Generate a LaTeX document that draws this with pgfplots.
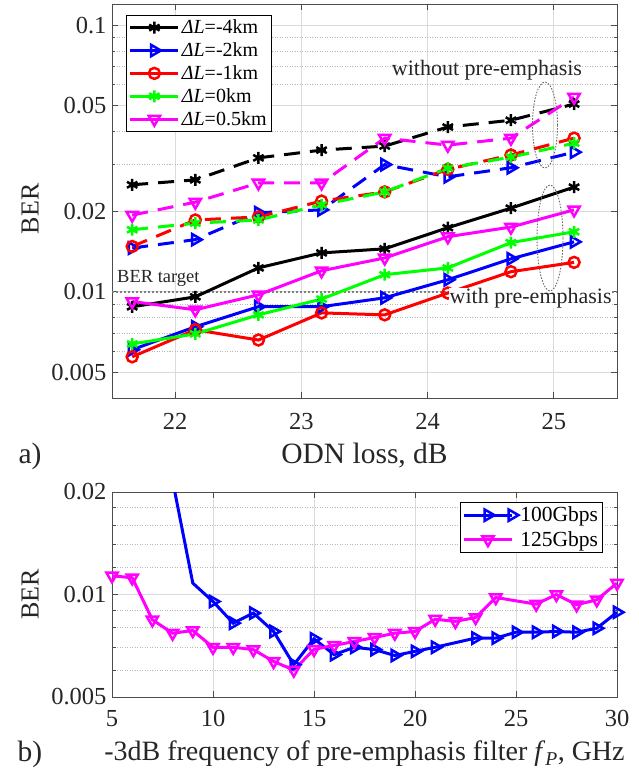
\documentclass[border=0pt]{standalone}
\usepackage{fontspec}
\setmainfont{Liberation Serif}
\usepackage{pgfplots}
\pgfplotsset{compat=1.18}
\definecolor{cK}{RGB}{0,0,0}
\definecolor{cB}{RGB}{0,0,255}
\definecolor{cR}{RGB}{255,0,0}
\definecolor{cG}{RGB}{0,255,0}
\definecolor{cM}{RGB}{255,0,255}

\tikzset{
  plK/.style={cK, line width=3pt, mark=asterisk, mark size=6pt, mark options={solid, line width=2.5pt}},
  plB/.style={cB, line width=3pt, mark=triangle, mark size=6.5pt, mark options={solid, rotate=-90, line width=2.5pt, fill=none}},
  plR/.style={cR, line width=3pt, mark=o, mark size=5.5pt, mark options={solid, line width=2.5pt, fill=none}},
  plG/.style={cG, line width=3pt, mark=asterisk, mark size=6pt, mark options={solid, line width=2.5pt}},
  plM/.style={cM, line width=3pt, mark=triangle, mark size=6.5pt, mark options={solid, rotate=180, line width=2.5pt, fill=none}},
  pldsh/.style={dash pattern=on 16pt off 10pt},
}

\begin{document}
\begin{tikzpicture}
\useasboundingbox (0pt,0pt) rectangle (638pt,-774pt);

% ---------- a) ----------
\begin{axis}[
  scale only axis, width=505pt, height=394pt, ymode=log,
  at={(112pt,-4pt)}, anchor=north west,
  tick align=inside,
  major tick length=6pt, minor tick length=3.5pt,
  grid=both,
  major grid style={line width=0.8pt, color=black!14},
  minor grid style={line width=0.8pt, color=black!28, dash pattern=on 1pt off 1.5pt},
  axis line style={line width=0.9pt, color=black!70},
  tick style={line width=0.9pt, color=black!70},
  tick label style={font=\fontsize{24.5}{28}\selectfont, text=black!85},
  xticklabel style={yshift=-12pt},
  yticklabel style={xshift=-2pt},
  label style={font=\fontsize{29.5}{33}\selectfont, text=black!85},
  legend cell align=left,
  legend image code/.code={\draw[mark repeat=2,mark phase=2,#1] plot coordinates {(0pt,0pt) (24pt,0pt) (48pt,0pt)};},
  ylabel style={at={(axis description cs:-0.162,0.48)}, anchor=center, font=\fontsize{26}{30}\selectfont},
  xmin=21.5, xmax=25.5, ymin=0.004, ymax=0.12,
  xtick={22,23,24,25}, xticklabels={22,23,24,25},
  ytick={0.005,0.01,0.02,0.05,0.1}, yticklabels={0.005,0.01,0.02,0.05,0.1},
  minor ytick={0.006,0.007,0.008,0.009,0.03,0.04,0.06,0.07,0.08,0.09},
  xlabel={ODN loss, dB}, ylabel={BER},
  xlabel style={at={(axis description cs:0.5,-0.165)}, anchor=base},
  legend style={at={(axis description cs:0.0277,0.972)}, anchor=north west,
    font=\fontsize{20}{23}\selectfont, draw=black, line width=0.8pt, inner sep=2.5pt, row sep=3.5pt, fill=white},
]
\addplot[forget plot, black!50, line width=2pt, dash pattern=on 2pt off 2pt] coordinates {(21.5,0.01) (25.5,0.01)};

\addplot[plK] coordinates {(21.66,0.00879) (22.16,0.00958) (22.66,0.0123) (23.16,0.0140) (23.66,0.0145) (24.16,0.0174) (24.66,0.0206) (25.16,0.0247)};
\addlegendentry{\textit{ΔL}=-4km}
\addplot[plB] coordinates {(21.66,0.00607) (22.16,0.0074) (22.66,0.0088) (23.16,0.0088) (23.66,0.0095) (24.16,0.0111) (24.66,0.0133) (25.16,0.0154)};
\addlegendentry{\textit{ΔL}=-2km}
\addplot[plR] coordinates {(21.66,0.00571) (22.16,0.00721) (22.66,0.0066) (23.16,0.00834) (23.66,0.0082) (24.16,0.0099) (24.66,0.0119) (25.16,0.0129)};
\addlegendentry{\textit{ΔL}=-1km}
\addplot[plG] coordinates {(21.66,0.00638) (22.16,0.00696) (22.66,0.0082) (23.16,0.0094) (23.66,0.0116) (24.16,0.0123) (24.66,0.0153) (25.16,0.0168)};
\addlegendentry{\textit{ΔL}=0km}
\addplot[plM] coordinates {(21.66,0.0092) (22.16,0.00857) (22.66,0.00975) (23.16,0.0120) (23.66,0.0134) (24.16,0.0161) (24.66,0.0175) (25.16,0.0203)};
\addlegendentry{\textit{ΔL}=0.5km}

\addplot[plK, pldsh, forget plot] coordinates {(21.66,0.0252) (22.16,0.0263) (22.66,0.0318) (23.16,0.0340) (23.66,0.0352) (24.16,0.0415) (24.66,0.0440) (25.16,0.0506)};
\addplot[plB, pldsh, forget plot] coordinates {(21.66,0.0146) (22.16,0.0157) (22.66,0.0198) (23.16,0.0203) (23.66,0.0300) (24.16,0.0270) (24.66,0.0292) (25.16,0.0334)};
\addplot[plR, pldsh, forget plot] coordinates {(21.66,0.0148) (22.16,0.0186) (22.66,0.0191) (23.16,0.0219) (23.66,0.0237) (24.16,0.0288) (24.66,0.0326) (25.16,0.0377)};
\addplot[plG, pldsh, forget plot] coordinates {(21.66,0.0171) (22.16,0.0181) (22.66,0.0186) (23.16,0.0212) (23.66,0.0237) (24.16,0.0291) (24.66,0.0320) (25.16,0.0361)};
\addplot[plM, pldsh, forget plot] coordinates {(21.66,0.0194) (22.16,0.0217) (22.66,0.0256) (23.16,0.0256) (23.66,0.0377) (24.16,0.0355) (24.66,0.0377) (25.16,0.0537)};
\end{axis}

% ---------- b) ----------
\begin{axis}[
  scale only axis, width=505pt, height=205pt, ymode=log,
  at={(112pt,-492pt)}, anchor=north west,
  tick align=inside,
  major tick length=6pt, minor tick length=3.5pt,
  grid=both,
  major grid style={line width=0.8pt, color=black!14},
  minor grid style={line width=0.8pt, color=black!28, dash pattern=on 1pt off 1.5pt},
  axis line style={line width=0.9pt, color=black!70},
  tick style={line width=0.9pt, color=black!70},
  tick label style={font=\fontsize{24.5}{28}\selectfont, text=black!85},
  xticklabel style={yshift=-10pt},
  yticklabel style={xshift=-2pt},
  label style={font=\fontsize{28}{32}\selectfont, text=black!85},
  legend cell align=left,
  legend image code/.code={\draw[mark repeat=2,mark phase=2,#1] plot coordinates {(0pt,0pt) (24pt,0pt) (48pt,0pt)};},
  ylabel style={at={(axis description cs:-0.162,0.5)}, anchor=center, font=\fontsize{26}{30}\selectfont},
  xmin=5, xmax=30, ymin=0.005, ymax=0.02,
  xtick={5,10,15,20,25,30}, xticklabels={5,10,15,20,25,30},
  ytick={0.005,0.01,0.02}, yticklabels={0.005,0.01,0.02},
  minor ytick={0.006,0.007,0.008,0.009,0.012,0.014,0.016,0.018},
  xlabel={-3dB frequency of pre-emphasis filter \textit{f}\textsubscript{\textit{P}}, GHz}, ylabel={BER},
  xlabel style={at={(axis description cs:0.5,-0.312)}, anchor=base},
  legend style={at={(axis description cs:0.9723,0.951)}, anchor=north east,
    font=\fontsize{21.5}{25}\selectfont, draw=black, line width=0.8pt, inner sep=2.5pt, row sep=4pt, fill=white},
]
\addplot[plB, mark indices={2,3,...,22}] coordinates {(8,0.0216) (9,0.0108) (10,0.00954) (11,0.00824) (12,0.00882) (13,0.00779) (14,0.00622) (15,0.00741) (16,0.00666) (17,0.0070) (18,0.00689) (19,0.00662) (20,0.00681) (21,0.0070) (23,0.00745) (24,0.00745) (25,0.00775) (26,0.00775) (27,0.00779) (28,0.00775) (29,0.00796) (30,0.00887)};
\addlegendentry{100Gbps}
\addplot[plM] coordinates {(5,0.01135) (6,0.0112) (7,0.00843) (8,0.0077) (9,0.00784) (10,0.0070) (11,0.0070) (12,0.00689) (13,0.00636) (14,0.0060) (15,0.0069) (16,0.00709) (17,0.00728) (18,0.00748) (19,0.0077) (20,0.00779) (21,0.00846) (22,0.00834) (23,0.00856) (24,0.0098) (26,0.00937) (27,0.0100) (28,0.00933) (29,0.00965) (30,0.0108)};
\addlegendentry{125Gbps}
\end{axis}

% ---------- annotations ----------
\node[anchor=center, font=\fontsize{22}{26}\selectfont, text=black!85] at (487pt,-70pt) {without pre-emphasis};
\node[anchor=west, font=\fontsize{22}{26}\selectfont, text=black!85, fill=white, inner sep=0.5pt] at (449pt,-298pt) {with pre-emphasis};
\node[anchor=west, font=\fontsize{18.5}{22}\selectfont, text=black!85, inner sep=0pt] at (117pt,-278pt) {BER target};
\draw[black!60, line width=0.9pt, dash pattern=on 1.5pt off 1.5pt] (545pt,-125pt) ellipse (12.5pt and 43pt);
\draw[black!60, line width=0.9pt, dash pattern=on 1.5pt off 1.5pt] (550pt,-238pt) ellipse (13pt and 53pt);
\node[anchor=base, font=\fontsize{29.5}{33}\selectfont, text=black!85] at (30pt,-463pt) {a)};
\node[anchor=base, font=\fontsize{29.5}{33}\selectfont, text=black!85] at (30pt,-761pt) {b)};
\end{tikzpicture}
\end{document}
